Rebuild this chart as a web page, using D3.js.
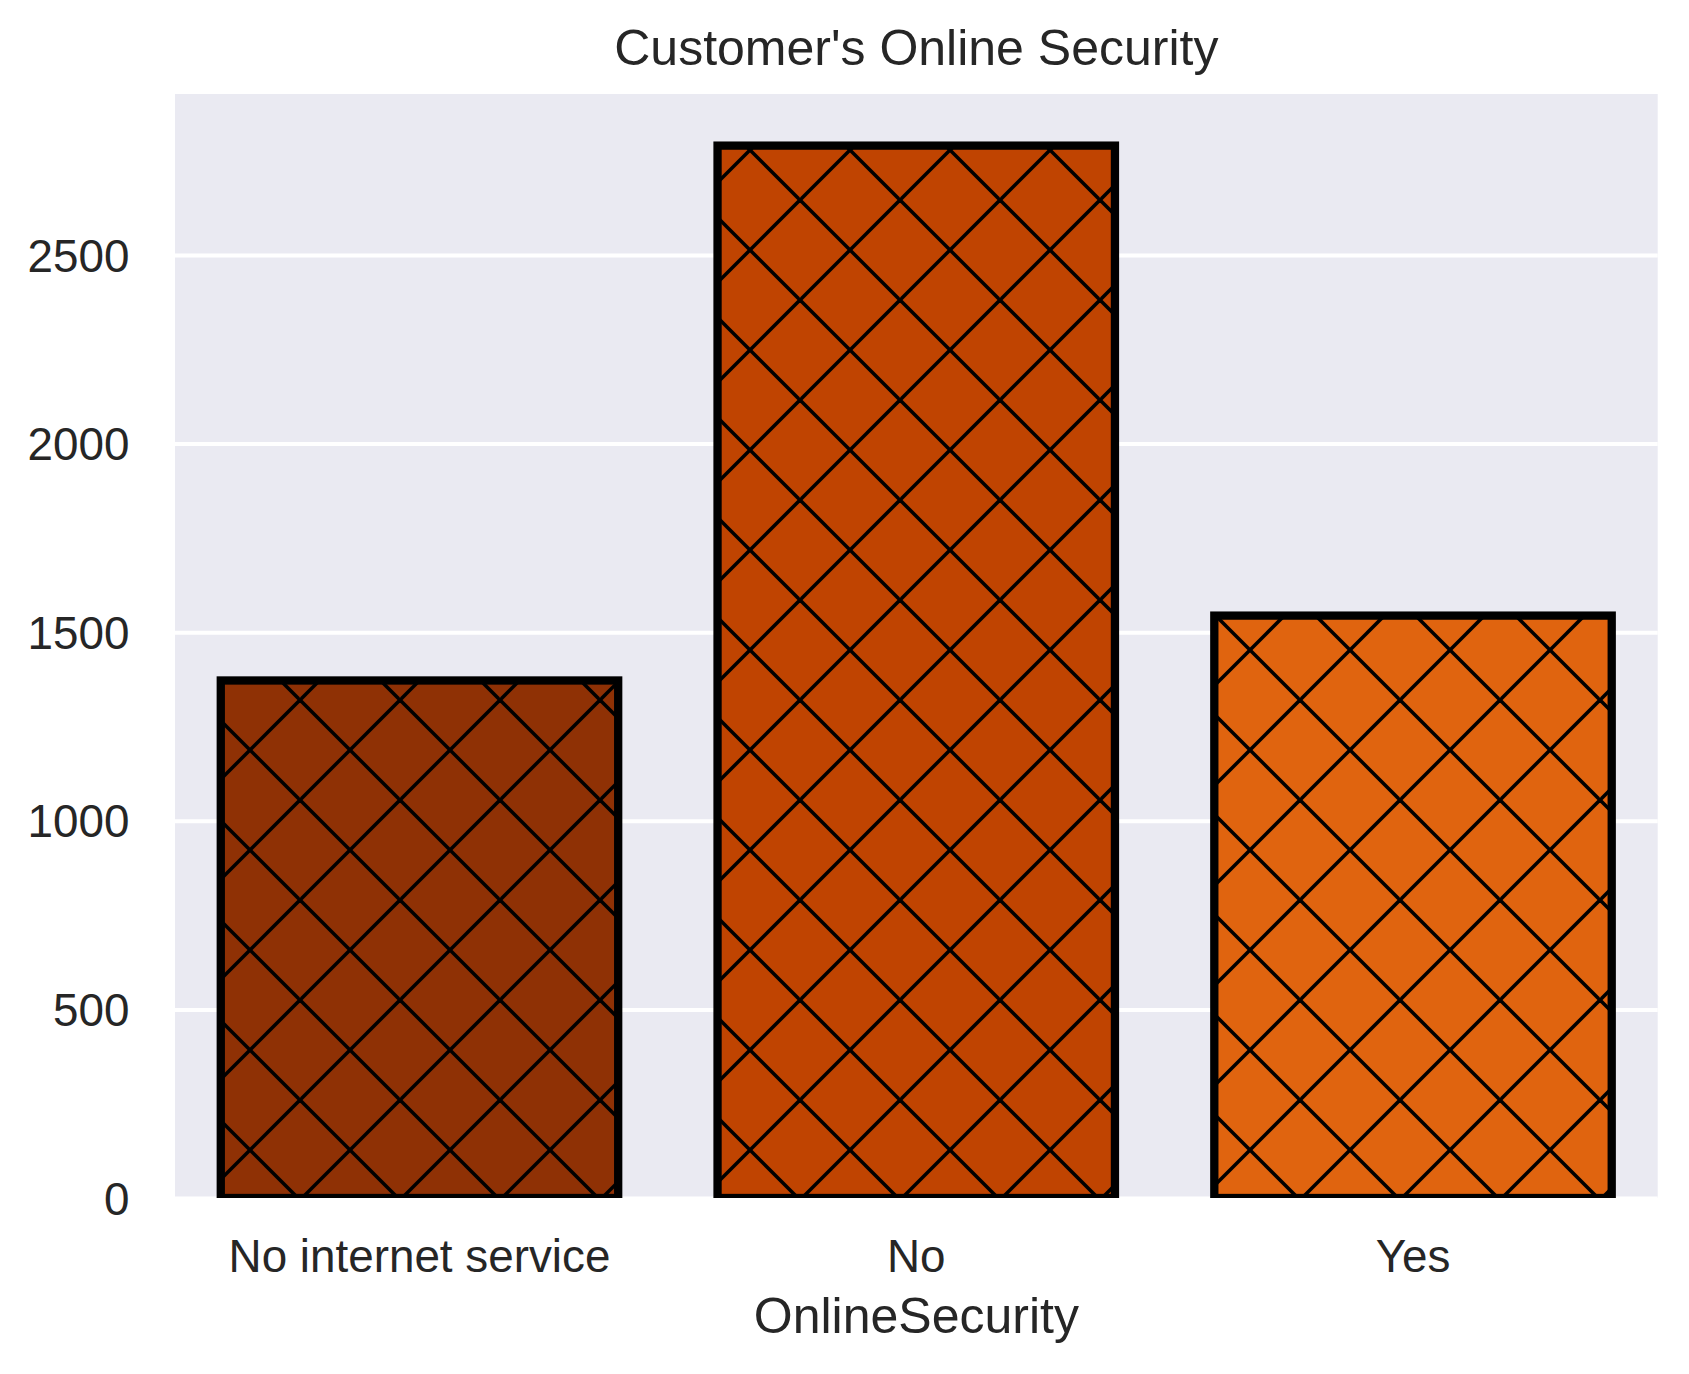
<!DOCTYPE html>
<html>
<head>
<meta charset="utf-8">
<script src="https://cdn.jsdelivr.net/npm/d3@7"></script>
<style>
  html, body { margin: 0; padding: 0; background: #ffffff; }
  svg { display: block; }
  text { font-family: "Liberation Sans", Arial, sans-serif; fill: #262626; }
</style>
</head>
<body>
<script>
// ---- data ----
const categories = ["No internet service", "No", "Yes"];
const counts = [1372, 2790, 1544];
const barColors = ["#8f3105", "#c04401", "#e0640f"];
const yTicks = [0, 500, 1000, 1500, 2000, 2500];
const title = "Customer's Online Security";
const xLabel = "OnlineSecurity";

// ---- layout ----
const W = 1689, H = 1374;
const plot = { left: 175, right: 1657.7, top: 94, bottom: 1198 };

const svg = d3.select("body").append("svg")
  .attr("width", W).attr("height", H);

const defs = svg.append("defs");
defs.append("clipPath").attr("id", "plotClip")
  .append("rect")
  .attr("x", plot.left).attr("y", plot.top)
  .attr("width", plot.right - plot.left).attr("height", plot.bottom - plot.top);

// hatch patterns ('x' hatch), anchored to page coordinates
barColors.forEach((c, i) => {
  const p = defs.append("pattern")
    .attr("id", "hatch" + i)
    .attr("patternUnits", "userSpaceOnUse")
    .attr("x", 0).attr("y", 0)
    .attr("width", 100).attr("height", 100);
  p.append("rect").attr("width", 100).attr("height", 100).attr("fill", c);
  p.append("line").attr("x1", -10).attr("y1", -10).attr("x2", 110).attr("y2", 110)
    .attr("stroke", "#000").attr("stroke-width", 3.6);
  p.append("line").attr("x1", 110).attr("y1", -10).attr("x2", -10).attr("y2", 110)
    .attr("stroke", "#000").attr("stroke-width", 3.6);
});

const x = d3.scaleBand()
  .domain(categories)
  .range([171.1, 1661.4])
  .paddingInner(0.2)
  .paddingOuter(0.1);

const y = d3.scaleLinear()
  .domain([0, d3.max(counts) * 1.05])
  .range([plot.bottom, plot.top - 1]);

// background
svg.append("rect")
  .attr("x", plot.left).attr("y", plot.top)
  .attr("width", plot.right - plot.left).attr("height", plot.bottom - plot.top)
  .attr("fill", "#eaeaf2");

// y axis with gridlines
const yAxis = d3.axisLeft(y)
  .tickValues(yTicks)
  .tickSize(-(plot.right - plot.left))
  .tickPadding(45)
  .tickFormat(d3.format("d"));

const gy = svg.append("g")
  .attr("transform", `translate(${plot.left},0)`)
  .call(yAxis);
gy.select(".domain").remove();
gy.selectAll(".tick line").attr("stroke", "#ffffff").attr("stroke-width", 4);
gy.selectAll(".tick text")
  .attr("x", 129.5 - plot.left)
  .attr("text-anchor", "end")
  .attr("dy", "0.35em")
  .style("font-size", "45.8px")
  .style("font-family", '"Liberation Sans", Arial, sans-serif')
  .attr("fill", "#262626");

// bars
const bars = svg.append("g").attr("clip-path", "url(#plotClip)");
bars.selectAll("rect.bar")
  .data(categories)
  .join("rect")
  .attr("class", "bar")
  .attr("x", d => x(d))
  .attr("width", x.bandwidth())
  .attr("y", (d, i) => y(counts[i]))
  .attr("height", (d, i) => y(0) - y(counts[i]))
  .attr("fill", (d, i) => `url(#hatch${i})`)
  .attr("stroke", "#000")
  .attr("stroke-width", 8.3);

// x axis
const xAxis = d3.axisBottom(x).tickSize(0).tickPadding(0);
const gx = svg.append("g")
  .attr("transform", `translate(0,${plot.bottom})`)
  .call(xAxis);
gx.select(".domain").remove();
gx.selectAll(".tick text")
  .attr("y", 1272 - plot.bottom)
  .attr("dy", null)
  .style("font-size", "45.8px")
  .style("font-family", '"Liberation Sans", Arial, sans-serif')
  .attr("fill", "#262626");

// x label
svg.append("text")
  .attr("x", (plot.left + plot.right) / 2)
  .attr("y", 1333)
  .attr("text-anchor", "middle")
  .style("font-size", "50px")
  .text(xLabel);

// title
svg.append("text")
  .attr("x", (plot.left + plot.right) / 2)
  .attr("y", 65)
  .attr("text-anchor", "middle")
  .style("font-size", "50px")
  .text(title);
</script>
</body>
</html>
